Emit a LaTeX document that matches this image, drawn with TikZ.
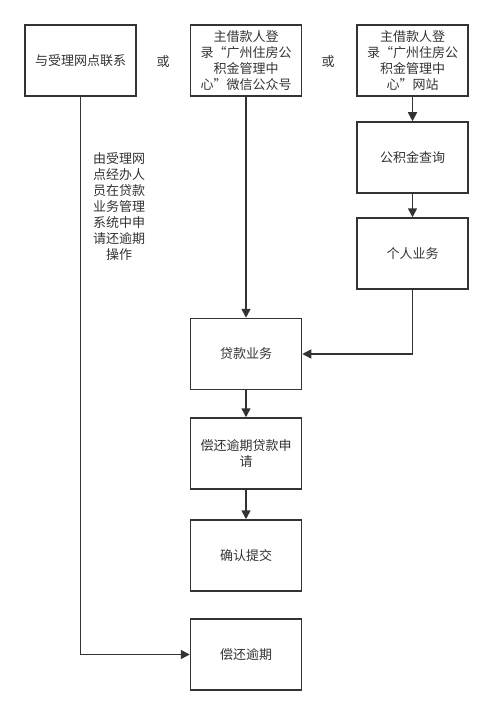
\documentclass[tikz,border=0pt]{standalone}
\usepackage{fontspec}
\newfontfamily\cjk{Noto Sans CJK SC}
\usetikzlibrary{arrows.meta}
\definecolor{ink}{HTML}{333333}
\tikzset{
  box/.style={draw=ink, line width=1.5pt, minimum width=111pt, minimum height=71pt, inner sep=2pt, align=center, text=ink, font=\cjk\fontsize{13}{16}\selectfont},
  lbl/.style={text=ink, align=center, font=\cjk\fontsize{13}{16}\selectfont},
  arr/.style={draw=ink, line width=1.5pt, -{Triangle[length=9pt,width=9pt]}},
  ln/.style={draw=ink, line width=1.5pt}
}
\begin{document}
\begin{tikzpicture}[x=1pt,y=-1pt]
\useasboundingbox (0,0) rectangle (492,714);
\node[box] (b1) at (80.5,60.5) {与受理网点联系};
\node[box] (b2) at (246,60.5) {主借款人登\\录“广州住房公\\积金管理中\\心”微信公众号};
\node[box] (b3) at (412.5,60.5) {主借款人登\\录“广州住房公\\积金管理中\\心”网站};
\node[box] (q) at (412.5,157.5) {公积金查询};
\node[box] (p) at (412.5,253.5) {个人业务};
\node[box] (loan) at (246,354) {贷款业务};
\node[box] (apply) at (246,453.5) {偿还逾期贷款申\\请};
\node[box] (conf) at (246,555.5) {确认提交};
\node[box] (fin) at (246,654.5) {偿还逾期};
\node[lbl] (or1) at (163,62) {或};
\node[lbl] (or2) at (328,62) {或};
\node[lbl] (note) at (119,207) {由受理网\\点经办人\\员在贷款\\业务管理\\系统中申\\请还逾期\\操作};
\draw[arr] (b1.south) |- (fin.west);
\draw[arr] (b2) -- (loan);
\draw[arr] (b3) -- (q);
\draw[arr] (q) -- (p);
\draw[arr] (p.south) |- (loan.east);
\draw[arr] (loan) -- (apply);
\draw[arr] (apply) -- (conf);
\end{tikzpicture}
\end{document}
